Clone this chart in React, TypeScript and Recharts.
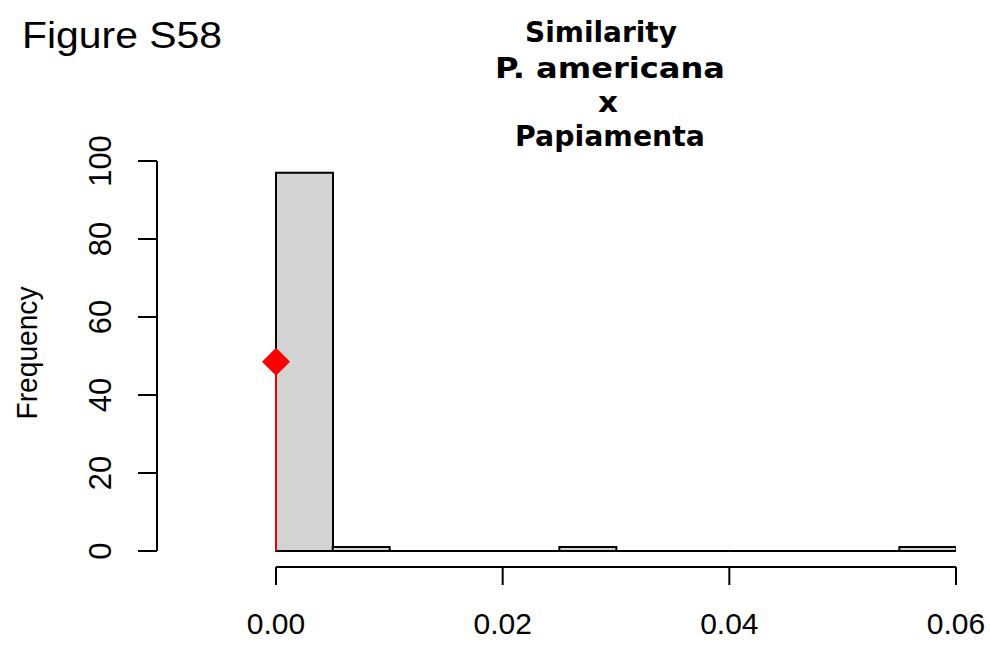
import { Bar, ComposedChart, ReferenceDot, ReferenceLine, XAxis, YAxis } from 'recharts';

// Histogram bins (left edges) and counts
const binStarts = [0, 0.005, 0.01, 0.015, 0.02, 0.025, 0.03, 0.035, 0.04, 0.045, 0.05, 0.055];
const binWidth = 0.005;
const binCounts = [97, 1, 0, 0, 0, 1, 0, 0, 0, 0, 0, 1];

// Observed value, marked in red
const observedSimilarity = 0;
const observedHeight = 48.5;

const xTicks = [0, 0.02, 0.04, 0.06];
const yTicks = [0, 20, 40, 60, 80, 100];
const titleLines = ['Similarity', 'P. americana', 'x', 'Papiamenta'];

const xDomain = [-0.0105, 0.06];
const yDomain = [-4.1, 100];

const histData = binStarts.map((start, i) => ({ mid: start + binWidth / 2, count: binCounts[i] }));

const sans = '"Liberation Sans", Arial, sans-serif';

// Outlined bin; empty bins still leave their border on the baseline
function HistBar(props: any) {
  const { x, y, width, height } = props;
  const h = Math.max(height || 0, 0);
  return (
    <path
      d={`M${x},${y + h} H${x + width} V${y} H${x} Z`}
      fill="#d3d3d3"
      stroke="#000"
      strokeWidth={2}
    />
  );
}

function Diamond(props: any) {
  const { cx, cy } = props;
  const r = 14;
  return <polygon points={`${cx},${cy - r} ${cx + r},${cy} ${cx},${cy + r} ${cx - r},${cy}`} fill="#ff0000" />;
}

function XTick(props: any) {
  const { x, y, payload } = props;
  return (
    <text x={x} y={y} dy={47} textAnchor="middle" fontSize={30} fontFamily={sans} fill="#000">
      {Number(payload.value).toFixed(2)}
    </text>
  );
}

function YTick(props: any) {
  const { x, y, payload } = props;
  return (
    <text
      transform={`translate(${x - 25},${y}) rotate(-90)`}
      textAnchor="middle"
      fontSize={31}
      fontFamily={sans}
      fill="#000"
    >
      {payload.value}
    </text>
  );
}

const titleBaselines = [42, 78, 112, 146];
const titleCenters = [601, 610, 608, 610];
const titleWidths = [152, 230, 20, 190];

export default function App() {
  return (
    <div style={{ position: 'absolute', left: 0, top: 0, width: 990, height: 648, background: '#fff' }}>
      <ComposedChart
        width={990}
        height={648}
        data={histData}
        margin={{ top: 161, right: 34, bottom: 0, left: 0 }}
        barCategoryGap={0}
        barGap={0}
      >
        <XAxis
          type="number"
          dataKey="mid"
          domain={xDomain}
          allowDataOverflow
          ticks={xTicks}
          tickSize={18}
          axisLine={false}
          tickLine={{ stroke: '#000', strokeWidth: 2 }}
          tick={<XTick />}
          height={81}
        />
        <YAxis
          type="number"
          domain={yDomain}
          allowDataOverflow
          ticks={yTicks}
          tickSize={19}
          axisLine={false}
          tickLine={{ stroke: '#000', strokeWidth: 2 }}
          tick={<YTick />}
          width={157}
        />
        <Bar dataKey="count" shape={<HistBar />} isAnimationActive={false} />
        {/* detached axis lines spanning only the data range */}
        <ReferenceLine
          segment={[{ x: xTicks[0], y: yDomain[0] }, { x: xTicks[xTicks.length - 1], y: yDomain[0] }]}
          stroke="#000"
          strokeWidth={2}
          ifOverflow="visible"
        />
        <ReferenceLine
          segment={[{ x: xDomain[0], y: yTicks[0] }, { x: xDomain[0], y: yTicks[yTicks.length - 1] }]}
          stroke="#000"
          strokeWidth={2}
          ifOverflow="visible"
        />
        <ReferenceLine
          segment={[{ x: observedSimilarity, y: 0 }, { x: observedSimilarity, y: observedHeight }]}
          stroke="#e60000"
          strokeWidth={2}
          ifOverflow="visible"
        />
        <ReferenceDot
          x={observedSimilarity}
          y={observedHeight}
          shape={<Diamond />}
          ifOverflow="visible"
        />
      </ComposedChart>
      <svg width={990} height={648} style={{ position: 'absolute', left: 0, top: 0, pointerEvents: 'none' }}>
        <text x={22} y={48} fontSize={36} fontFamily={sans} textLength={200} lengthAdjust="spacingAndGlyphs">
          Figure S58
        </text>
        {titleLines.map((line, i) => (
          <text
            key={line}
            x={titleCenters[i]}
            y={titleBaselines[i]}
            textAnchor="middle"
            fontSize={28}
            fontWeight="bold"
            fontFamily='"DejaVu Sans", sans-serif'
            textLength={titleWidths[i]}
            lengthAdjust="spacingAndGlyphs"
          >
            {line}
          </text>
        ))}
        <text
          transform="translate(37,353) rotate(-90)"
          textAnchor="middle"
          fontSize={30}
          fontFamily={sans}
          textLength={133}
          lengthAdjust="spacingAndGlyphs"
        >
          Frequency
        </text>
      </svg>
    </div>
  );
}
